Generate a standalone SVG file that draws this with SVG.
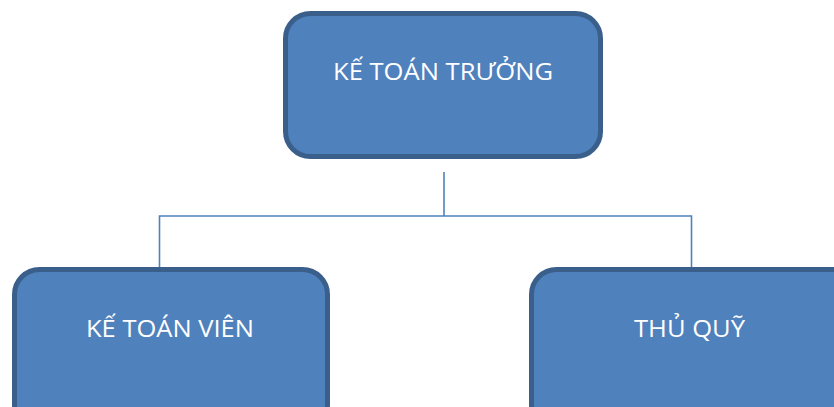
<svg xmlns="http://www.w3.org/2000/svg" width="834" height="407" viewBox="0 0 834 407">
  <style>
    .box { fill: #4f81bd; stroke: #3a5f8b; stroke-width: 5; }
    .label { fill: #ffffff; font-family: "Open Sans", "Noto Sans", "Liberation Sans", sans-serif; font-size: 24.5px; text-anchor: middle; }
    .link { fill: none; stroke: #4f81bd; stroke-width: 1.6; }
  </style>
  <rect width="834" height="407" fill="#ffffff"/>
  <g id="connectors">
    <path class="link" d="M444 172 V216"/>
    <path class="link" d="M159.5 269 V216 H691.5 V269"/>
  </g>
  <g id="ke-toan-truong">
    <rect class="box" x="285.5" y="13.5" width="315" height="143" rx="25" ry="25"/>
    <text class="label" x="443" y="80" textLength="220" lengthAdjust="spacingAndGlyphs">KẾ TOÁN TRƯỞNG</text>
  </g>
  <g id="ke-toan-vien">
    <rect class="box" x="14.5" y="269.5" width="313" height="160" rx="25" ry="25"/>
    <text class="label" x="170" y="336.5" textLength="168" lengthAdjust="spacingAndGlyphs">KẾ TOÁN VIÊN</text>
  </g>
  <g id="thu-quy">
    <rect class="box" x="531.5" y="269.5" width="330" height="160" rx="25" ry="25"/>
    <text class="label" x="689.5" y="336.5" textLength="111" lengthAdjust="spacingAndGlyphs">THỦ QUỸ</text>
  </g>
</svg>
